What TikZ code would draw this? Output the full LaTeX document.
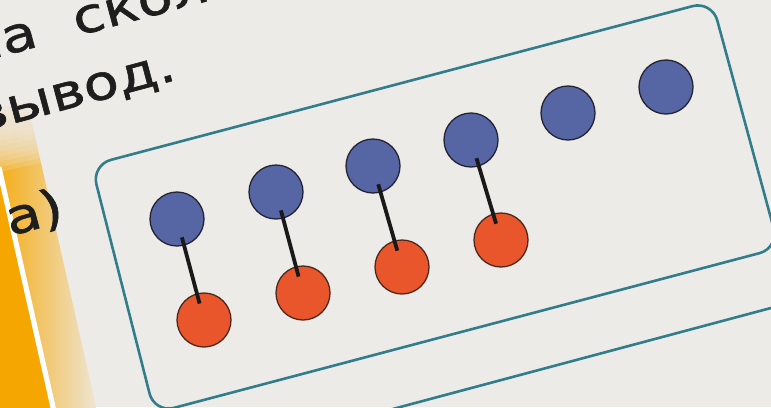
\documentclass[tikz,border=0pt]{standalone}
\usepackage{fontspec}
\setmainfont{DejaVu Sans}
\newfontfamily\printfont[FakeStretch=1.2,FakeBold=1.2]{DejaVu Sans}
\definecolor{paper}{RGB}{237,235,231}
\definecolor{dotblue}{RGB}{86,101,163}
\definecolor{dotorange}{RGB}{233,86,43}
\definecolor{dotedge}{RGB}{35,35,50}
\definecolor{orangeedge}{RGB}{75,40,30}
\definecolor{frameteal}{RGB}{50,125,140}
\definecolor{pageorange}{RGB}{246,166,0}
\definecolor{inkgray}{RGB}{30,30,30}
\begin{document}
\begin{tikzpicture}[x=1pt,y=-1pt,
  bdot/.style={circle,minimum size=54pt,inner sep=0pt,fill=dotblue,draw=dotedge,line width=1.3pt},
  odot/.style={circle,minimum size=54pt,inner sep=0pt,fill=dotorange,draw=orangeedge,line width=1.3pt},
  link/.style={line width=3.8pt,draw=black!90,shorten <=19pt,shorten >=17pt},
  frame/.style={draw=frameteal,line width=2.6pt,rounded corners=20pt},
  printed/.style={text=inkgray,font=\printfont\fontsize{48}{48}\selectfont,inner sep=0pt,rotate=15}
]
\useasboundingbox (0,0) rectangle (771,407);
\clip (0,0) rectangle (771,407);
\fill[paper] (0,0) rectangle (771,407);
% orange page edge on the left
\begin{scope}[shift={(0,172)},rotate=12.7]
  \shade[left color=pageorange, right color=paper] (0,-62) rectangle (42,300);
  \foreach \k in {0,...,12}
    \fill[paper,opacity=0.2] (-6,-64) rectangle (46,-5*\k);
  \fill[pageorange] (-100,0) rectangle (0,300);
  \fill[white] (-2.6,-5) rectangle (2.6,300);
\end{scope}
% printed text
\node[printed,anchor=base west] (t1) at (-31,65) {на\hspace{39pt}скол};
\node[printed,anchor=base west] (t2) at (-22,133) {вывод.};
\node[printed,anchor=base west] (t3) at (10,236) {а)};
% frames
\draw[frame] (91.5,165) -- (712,1) -- (779,248) -- (154.5,413) -- cycle;
\draw[frame] (380,412.4) -- (790,302.9);
% dots
\node[bdot] (b1) at (177,219) {};
\node[bdot] (b2) at (276,192) {};
\node[bdot] (b3) at (373,166) {};
\node[bdot] (b4) at (471,140) {};
\node[bdot] (b5) at (568,113) {};
\node[bdot] (b6) at (666,87) {};
\node[odot] (o1) at (204,320) {};
\node[odot] (o2) at (303,293) {};
\node[odot] (o3) at (402,267) {};
\node[odot] (o4) at (501,240) {};
% links
\draw[link] (b1.center) -- (o1.center);
\draw[link] (b2.center) -- (o2.center);
\draw[link] (b3.center) -- (o3.center);
\draw[link] (b4.center) -- (o4.center);
\end{tikzpicture}
\end{document}
